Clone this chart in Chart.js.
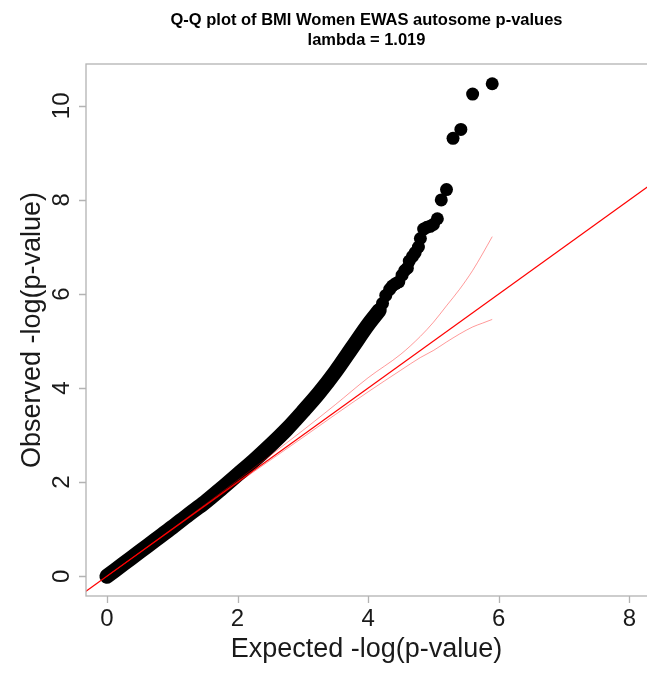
<!DOCTYPE html>
<html>
<head>
<meta charset="utf-8">
<script src="https://cdn.jsdelivr.net/npm/chart.js@4"></script>
<style>
  html, body { margin: 0; padding: 0; background: #fff; overflow: hidden; }
  #wrap { width: 647px; height: 673px; }
</style>
</head>
<body>
<div id="wrap"><canvas id="qq-chart"></canvas></div>
<script>
// titoli e assi
const titleLines = ['Q-Q plot of BMI Women EWAS autosome p-values', 'lambda = 1.019'];
const xTitle = 'Expected -log(p-value)';
const yTitle = 'Observed -log(p-value)';
const xTicks = [0, 2, 4, 6, 8];
const yTicks = [0, 2, 4, 6, 8, 10];

// banda densa dei punti
const bulkExpected = [0, 0.25, 0.5, 0.75, 1.0, 1.25, 1.5, 1.75, 2.0, 2.25, 2.5, 2.75, 3.0, 3.25, 3.5, 3.75, 4.0, 4.17];
const bulkObserved = [0, 0.26, 0.52, 0.78, 1.04, 1.31, 1.57, 1.86, 2.16, 2.46, 2.78, 3.12, 3.5, 3.9, 4.35, 4.85, 5.35, 5.65];

// coda con i punti separati
const tailExpected = [4.17, 4.22, 4.27, 4.33, 4.37, 4.42, 4.47, 4.52, 4.56, 4.6, 4.63, 4.68, 4.72, 4.77, 4.8, 4.85, 4.9, 4.95, 5.0, 5.06, 5.12, 5.2, 5.3, 5.42, 5.6, 5.9];
const tailObserved = [5.65, 5.8, 5.97, 6.1, 6.17, 6.22, 6.26, 6.4, 6.5, 6.55, 6.7, 6.8, 6.88, 7.0, 7.18, 7.38, 7.42, 7.44, 7.48, 7.6, 8.0, 8.22, 9.31, 9.5, 10.25, 10.47];

// intervallo di confidenza
const ciExpected = [0, 1, 2, 3, 3.5, 4, 4.5, 4.8, 5.0, 5.2, 5.4, 5.6, 5.75, 5.9];
const ciUpper = [0, 1.01, 2.04, 3.1, 3.65, 4.22, 4.72, 5.1, 5.4, 5.75, 6.1, 6.5, 6.85, 7.22];
const ciLower = [0, 0.99, 1.98, 2.95, 3.44, 3.92, 4.38, 4.65, 4.8, 4.98, 5.15, 5.3, 5.38, 5.46];

// diagonale y = x
const diagEnds = [-0.5, 9];

const toPoints = (xs, ys) => xs.map((v, i) => ({ x: v, y: ys[i] }));

const ctx = document.getElementById('qq-chart');

const rAxes = {
    id: 'rAxes',
    afterDraw(chart) {
        const c = chart.ctx;
        const a = chart.chartArea;
        const x = chart.scales.x;
        const y = chart.scales.y;
        c.save();
        c.strokeStyle = '#b3b3b3';
        c.lineWidth = 1.3;
        c.strokeRect(a.left, a.top, a.right - a.left + 10, a.bottom - a.top);

        c.beginPath();
        xTicks.forEach(t => {
            const px = Math.round(x.getPixelForValue(t)) + 0.5;
            c.moveTo(px, a.bottom);
            c.lineTo(px, a.bottom + 7);
        });
        yTicks.forEach(t => {
            const py = Math.round(y.getPixelForValue(t)) + 0.5;
            c.moveTo(a.left, py);
            c.lineTo(a.left - 7, py);
        });
        c.stroke();

        c.fillStyle = '#1a1a1a';
        c.font = '24px "Liberation Sans"';
        c.textAlign = 'center';
        c.textBaseline = 'middle';
        xTicks.forEach(t => c.fillText(String(t), x.getPixelForValue(t), 619));
        yTicks.forEach(t => {
            c.save();
            c.translate(62, y.getPixelForValue(t));
            c.rotate(-Math.PI / 2);
            c.fillText(String(t), 0, 0);
            c.restore();
        });

        const cx = (a.left + a.right) / 2;
        const cy = (a.top + a.bottom) / 2;
        c.font = '27px "Liberation Sans"';
        c.fillText(xTitle, cx, 650);
        c.save();
        c.translate(33, cy);
        c.rotate(-Math.PI / 2);
        c.fillText(yTitle, 0, 0);
        c.restore();

        c.font = 'bold 16.5px "Liberation Sans"';
        c.fillStyle = '#000';
        c.fillText(titleLines[0], cx, 20);
        c.fillText(titleLines[1], cx, 40);
        c.restore();
    }
};

const data = {
    datasets: [
        {
            label: 'diagonale',
            data: toPoints(diagEnds, diagEnds),
            showLine: true,
            borderColor: 'rgb(255, 0, 0)',
            borderWidth: 1.2,
            pointRadius: 0
        },
        {
            label: 'CI alto',
            data: toPoints(ciExpected, ciUpper),
            showLine: true,
            borderColor: 'rgba(255, 0, 0, 0.4)',
            borderWidth: 1,
            pointRadius: 0,
            cubicInterpolationMode: 'monotone'
        },
        {
            label: 'CI basso',
            data: toPoints(ciExpected, ciLower),
            showLine: true,
            borderColor: 'rgba(255, 0, 0, 0.4)',
            borderWidth: 1,
            pointRadius: 0,
            cubicInterpolationMode: 'monotone'
        },
        {
            label: 'coda',
            data: toPoints(tailExpected, tailObserved),
            showLine: false,
            backgroundColor: '#000',
            borderWidth: 0,
            pointRadius: 6.5
        },
        {
            label: 'banda',
            data: toPoints(bulkExpected, bulkObserved),
            showLine: true,
            borderColor: '#000',
            borderWidth: 15,
            borderCapStyle: 'round',
            borderJoinStyle: 'round',
            cubicInterpolationMode: 'monotone',
            pointRadius: 0
        }
    ]
};

const config = {
    type: 'scatter',
    data: data,
    options: {
        responsive: true,
        maintainAspectRatio: false,
        animation: false,
        events: [],
        layout: {
            autoPadding: false,
            padding: { left: 86, top: 64, right: 0, bottom: 77 }
        },
        scales: {
            x: { type: 'linear', min: -0.32, max: 8.27, display: false },
            y: { type: 'linear', min: -0.42, max: 10.89, display: false }
        },
        plugins: {
            legend: { display: false },
            tooltip: { enabled: false }
        }
    },
    plugins: [rAxes]
};

const myChart = new Chart(ctx, config);
</script>
</body>
</html>
